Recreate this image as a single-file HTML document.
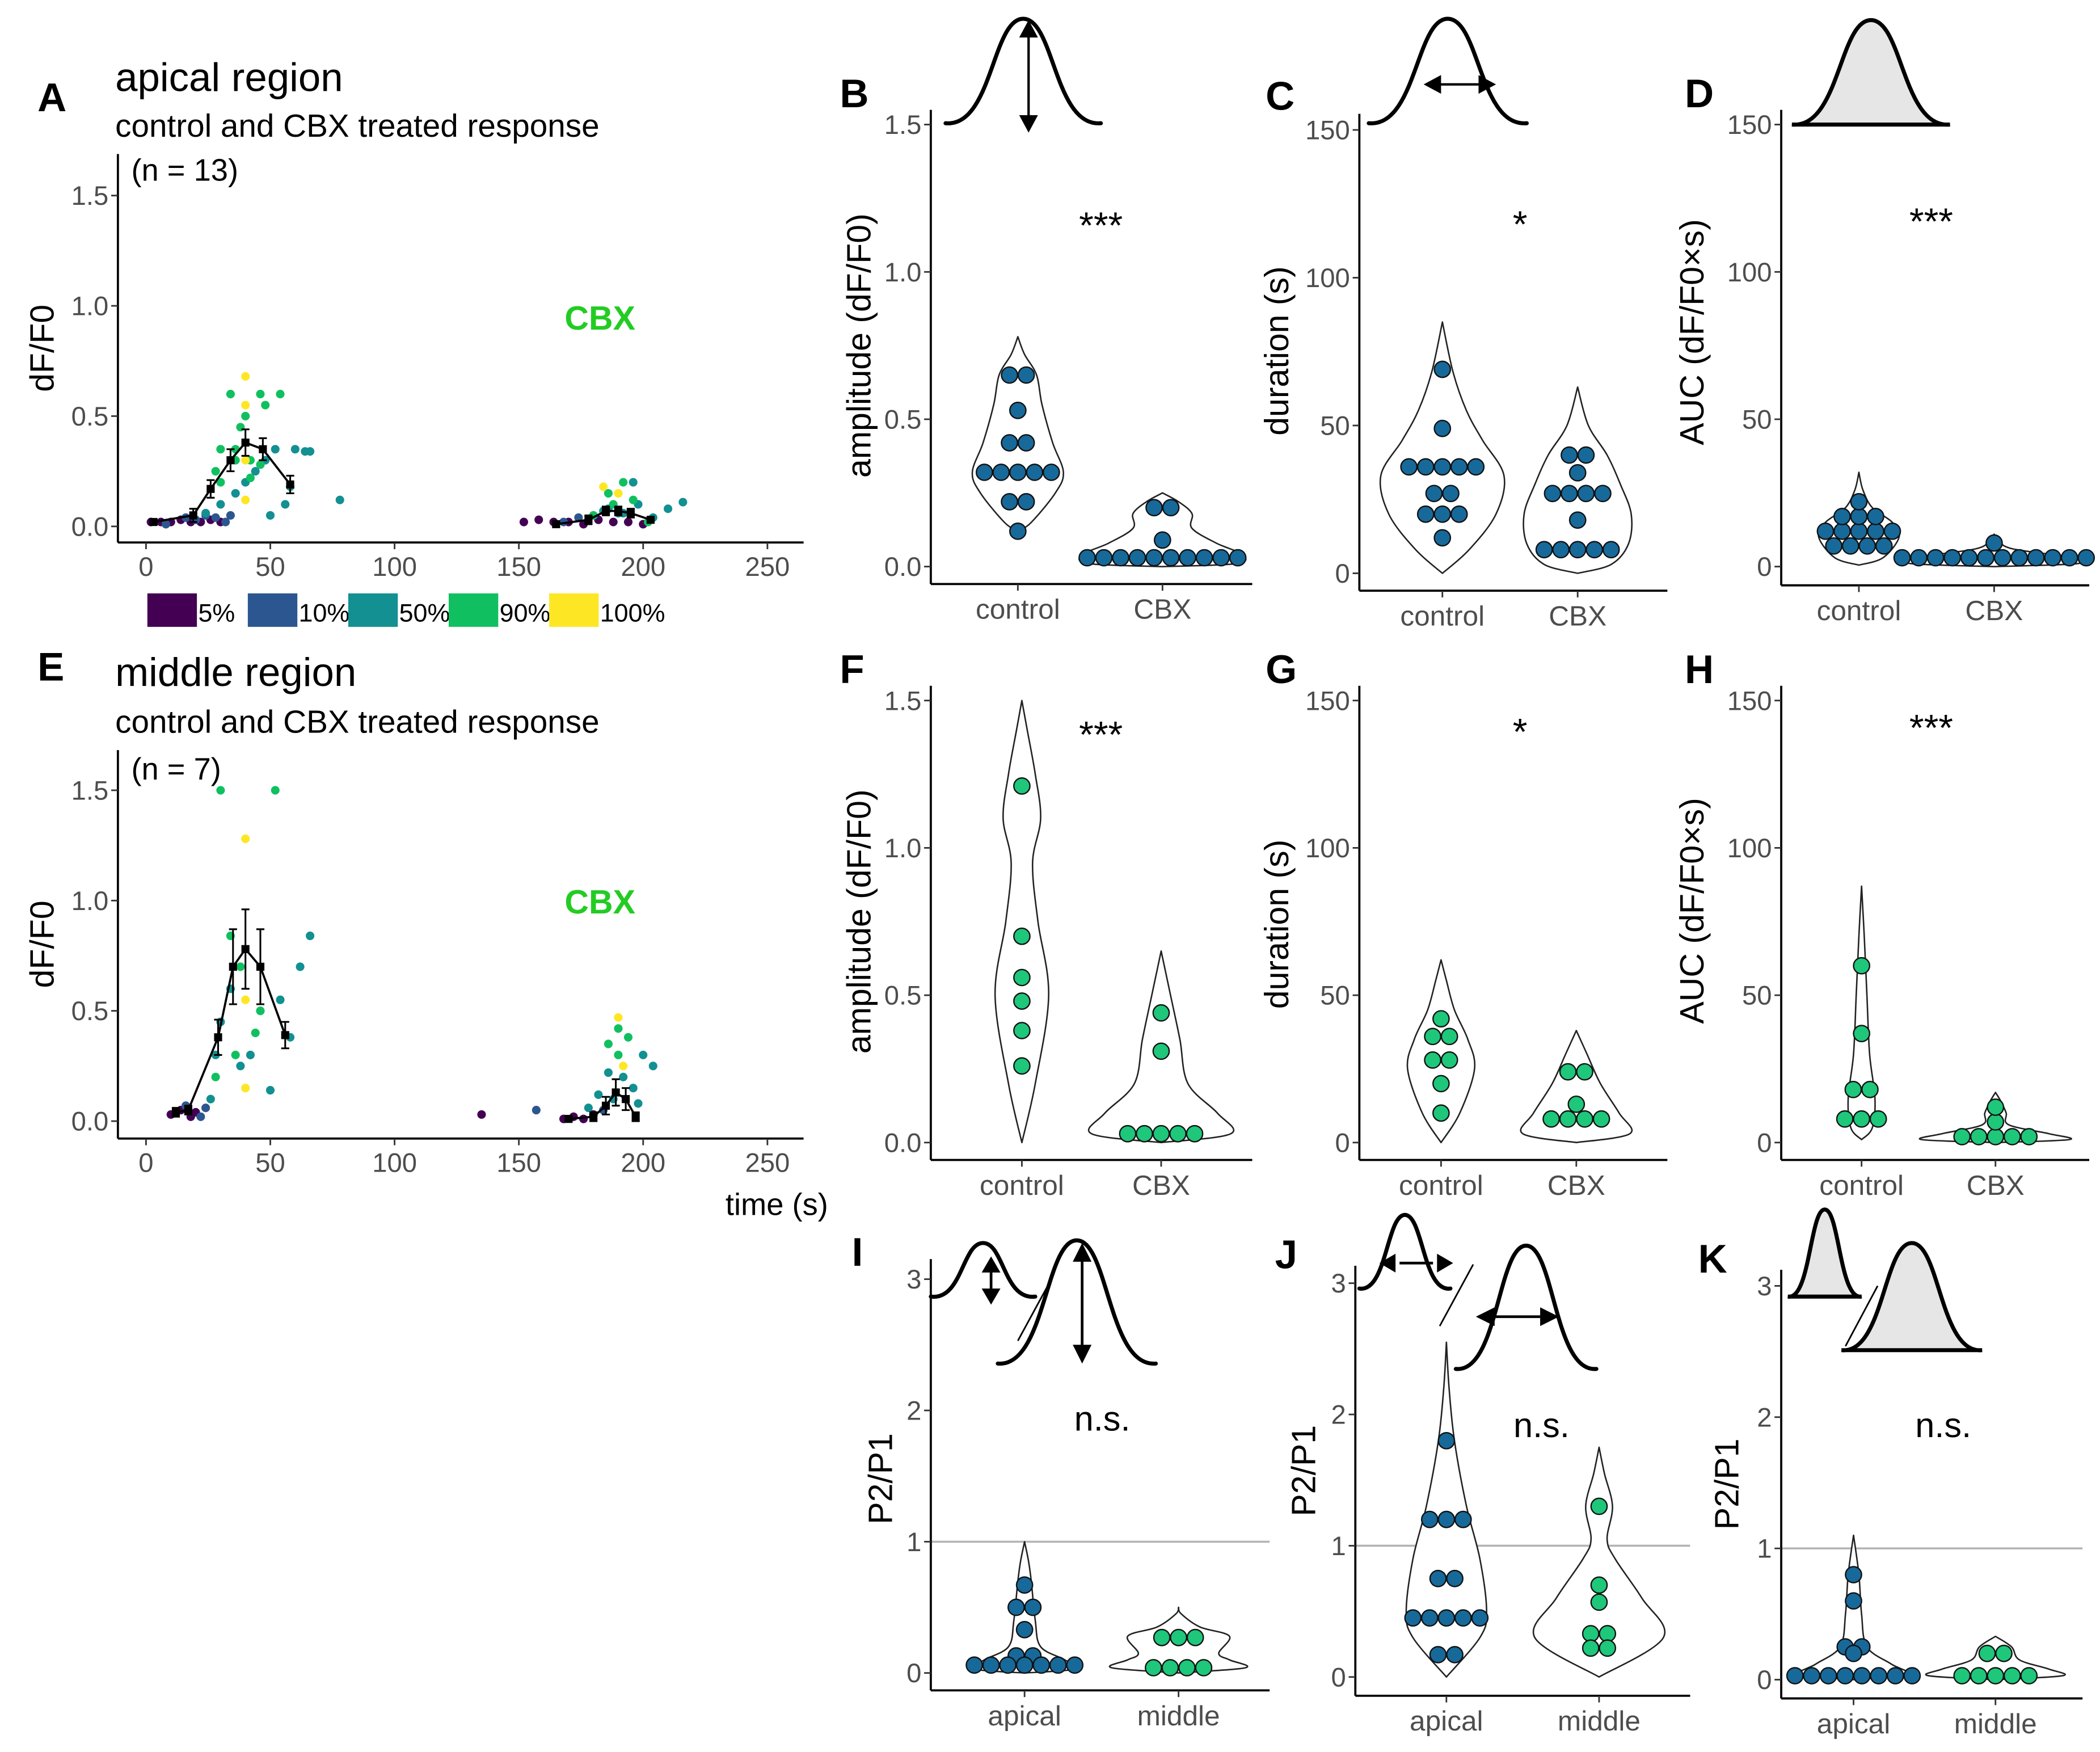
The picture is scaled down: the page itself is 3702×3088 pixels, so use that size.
<!DOCTYPE html>
<html><head><meta charset="utf-8"><style>
html,body{margin:0;padding:0;background:#fff}
svg{display:block}
text{font-family:"Liberation Sans",sans-serif}
</style></head><body>
<svg id="fig" xmlns="http://www.w3.org/2000/svg" width="3702" height="3088" viewBox="0 0 1568 1308">
<rect width="1568" height="1308" fill="#fff"/>
<g id="root"></g>
</svg>
<script>
// ---------- DATA ----------
const pctLabels=["5%","10%","50%","90%","100%"];
const pctColors=["#440154","#2c568f","#129092","#10c060","#fde725"];
// panel A scatter: [time, value, class]
const aTimes=[2,6,10,14,18,22,26,30,8,16,24,20,28,32,34,24,30,36,40,44,48,52,56,60,64,28,36,42,50,58,66,78,46,38,30,34,40,46,30,36,42,48,54,40,40,40,40,152,158,164,170,176,182,188,194,200,168,174,180,186,192,198,204,210,216,184,190,196,202,186,192,184,190,196,180,188];
const aVals=[0.02,0.02,0.02,0.03,0.02,0.02,0.03,0.02,0.01,0.04,0.05,0.03,0.04,0.02,0.05,0.06,0.1,0.15,0.2,0.25,0.3,0.35,0.1,0.35,0.34,0.25,0.3,0.22,0.05,0.18,0.34,0.12,0.28,0.45,0.2,0.6,0.5,0.6,0.35,0.35,0.3,0.55,0.6,0.68,0.55,0.3,0.12,0.02,0.03,0.02,0.02,0.01,0.03,0.02,0.02,0.01,0.02,0.04,0.05,0.08,0.06,0.1,0.04,0.08,0.11,0.07,0.06,0.12,0.02,0.15,0.2,0.18,0.15,0.2,0.05,0.1];
const aCls=[0,0,0,0,0,0,0,0,1,1,1,1,1,1,1,2,2,2,2,2,2,2,2,2,2,3,3,3,2,2,2,2,3,3,3,3,3,3,3,3,3,3,3,4,4,4,4,0,0,0,0,0,0,0,0,0,1,1,2,2,2,2,2,2,2,2,2,3,3,3,3,4,4,2,3,3];
const aMeanT=[3,19,26,34,40,47,58,165,178,185,190,195,203];
const aMeanV=[0.02,0.05,0.17,0.3,0.38,0.35,0.19,0.01,0.03,0.07,0.07,0.06,0.03];
const aMeanE=[0.01,0.03,0.04,0.05,0.06,0.05,0.04,0.01,0.02,0.02,0.02,0.02,0.01];
// panel E scatter
const eTimes=[10,14,18,20,24,16,22,26,28,30,34,38,42,46,50,54,58,62,66,30,34,38,46,52,28,36,44,40,40,40,135,157,168,172,176,180,184,188,192,196,200,204,178,182,186,190,194,198,186,190,192,190];
const eVals=[0.03,0.05,0.02,0.04,0.06,0.07,0.02,0.1,0.3,0.45,0.6,0.25,0.3,0.5,0.14,0.55,0.38,0.7,0.84,1.5,0.84,0.7,0.5,1.5,0.2,0.3,0.4,1.28,0.55,0.15,0.03,0.05,0.01,0.02,0.01,0.03,0.05,0.1,0.2,0.15,0.3,0.25,0.06,0.12,0.22,0.3,0.38,0.08,0.35,0.42,0.25,0.47];
const eCls=[0,0,0,0,1,1,1,2,2,2,2,2,2,2,2,2,2,2,2,3,3,3,3,3,3,3,3,4,4,4,0,1,0,0,0,0,1,2,2,2,2,2,2,2,2,3,3,2,3,3,4,4];
const eMeanT=[12,17,29,35,40,46,56,170,180,185,189,193,197];
const eMeanV=[0.04,0.05,0.38,0.7,0.78,0.7,0.39,0.01,0.02,0.07,0.13,0.1,0.02];
const eMeanE=[0.02,0.02,0.08,0.17,0.18,0.17,0.06,0.01,0.02,0.04,0.06,0.05,0.02];
// violin panels: dot values
const bCtrl=[0.65,0.65,0.53,0.42,0.42,0.32,0.32,0.32,0.32,0.32,0.22,0.22,0.12];
const bCbx=[0.2,0.2,0.09,0.03,0.03,0.03,0.03,0.03,0.03,0.03,0.03,0.03,0.03];
const cCtrl=[69,49,36,36,36,36,36,27,27,20,20,20,12];
const cCbx=[40,40,34,27,27,27,27,18,8,8,8,8,8];
const dCtrl=[22,17,17,17,12,12,12,12,12,7,7,7,7];
const dCbx=[8,3,3,3,3,3,3,3,3,3,3,3,3];
const fCtrl=[1.21,0.7,0.56,0.48,0.38,0.26];
const fCbx=[0.44,0.31,0.03,0.03,0.03,0.03,0.03];
const gCtrl=[42,36,36,28,28,20,10];
const gCbx=[24,24,13,8,8,8,8];
const hCtrl=[60,37,18,18,8,8,8];
const hCbx=[12,7,2,2,2,2,2];
const iApi=[0.67,0.5,0.5,0.33,0.13,0.13,0.06,0.06,0.06,0.06,0.06,0.06,0.06];
const iMid=[0.27,0.27,0.27,0.04,0.04,0.04,0.04];
const jApi=[1.8,1.2,1.2,1.2,0.75,0.75,0.45,0.45,0.45,0.45,0.45,0.17,0.17];
const jMid=[1.3,0.7,0.57,0.33,0.33,0.22,0.22];
const kApi=[0.8,0.6,0.25,0.25,0.2,0.03,0.03,0.03,0.03,0.03,0.03,0.03,0.03];
const kMid=[0.2,0.2,0.03,0.03,0.03,0.03,0.03];
// violin outlines: [value, half-width]
const vB1=[[0.12,0],[0.15,10],[0.25,28],[0.32,34],[0.42,26],[0.55,18],[0.65,14],[0.72,5],[0.78,0]];
const vB2=[[0,0],[0.01,55],[0.04,60],[0.08,40],[0.13,22],[0.18,22],[0.22,12],[0.25,0]];
const vC1=[[0,0],[8,20],[20,40],[33,46],[45,30],[55,18],[68,8],[85,0]];
const vC2=[[0,0],[3,25],[10,38],[20,40],[30,32],[40,22],[50,8],[63,0]];
const vD1=[[0.5,0],[3,18],[10,30],[15,25],[20,10],[26,3],[32,0]];
const vD2=[[0,0],[1,62],[3,60],[6,14],[9,3],[11,0]];
const vF1=[[0,0],[0.2,10],[0.5,20],[0.75,12],[0.95,8],[1.1,14],[1.25,10],[1.4,4],[1.5,0]];
const vF2=[[0,0],[0.03,52],[0.1,42],[0.2,20],[0.35,14],[0.5,7],[0.65,0]];
const vG1=[[0,0],[10,14],[25,25],[35,20],[45,10],[55,4],[62,0]];
const vG2=[[0,0],[3,40],[10,32],[20,18],[30,8],[38,0]];
const vH1=[[1,0],[5,8],[15,10],[30,6],[50,4],[70,2],[87,0]];
const vH2=[[0,0],[1,55],[3,40],[6,10],[10,8],[14,4],[17,0]];
const vI1=[[0,0],[0.03,38],[0.1,30],[0.2,12],[0.4,8],[0.7,5],[0.85,3],[1,0]];
const vI2=[[0,0],[0.04,50],[0.1,38],[0.15,30],[0.28,38],[0.35,16],[0.45,2],[0.5,0]];
const vJ1=[[0,0],[0.3,25],[0.5,30],[0.9,25],[1.3,15],[1.8,6],[2.2,2],[2.55,0]];
const vJ2=[[0,0],[0.3,48],[0.6,32],[0.9,12],[1.05,6],[1.3,10],[1.55,4],[1.75,0]];
const vK1=[[0,0],[0.04,40],[0.12,28],[0.25,10],[0.5,6],[0.8,4],[1.1,0]];
const vK2=[[0,0],[0.03,50],[0.08,40],[0.15,18],[0.25,12],[0.33,0]];

// ---------- HELPERS ----------
const NS="http://www.w3.org/2000/svg";
const root=document.getElementById('root');
function el(tag,attrs,parent,txt){const e=document.createElementNS(NS,tag);for(const k in attrs)e.setAttribute(k,attrs[k]);if(txt!==undefined)e.textContent=txt;(parent||root).appendChild(e);return e;}
function lin(v0,p0,v1,p1){return v=>p0+(v-v0)*(p1-p0)/(v1-v0);}
function txt(x,y,s,size,opts,name,parent){const t=el('text',Object.assign({x:x,y:y,'font-size':size},opts||{}),parent,s);


return t;}

function axes(g,ax,ay,top,right,ticks,yS,tickLbls){
  el('line',{x1:ax,y1:top,x2:ax,y2:ay,stroke:'#000','stroke-width':1.6},g);
  el('line',{x1:ax,y1:ay,x2:right,y2:ay,stroke:'#000','stroke-width':1.6},g);
  ticks.forEach((v,i)=>{const y=yS(v);
    el('line',{x1:ax-5,y1:y,x2:ax,y2:y,stroke:'#333','stroke-width':1.2},g);
    txt(ax-7,y+7,tickLbls[i],20,{'text-anchor':'end',fill:'#4d4d4d'},'y-tick-label',g);
  });
}
function smoothOpen(pts){
  let d='M'+pts[0][0]+','+pts[0][1];
  for(let i=0;i<pts.length-1;i++){
    const p0=pts[Math.max(0,i-1)],p1=pts[i],p2=pts[i+1],p3=pts[Math.min(pts.length-1,i+2)];
    const c1=[p1[0]+(p2[0]-p0[0])/6,p1[1]+(p2[1]-p0[1])/6];
    const c2=[p2[0]-(p3[0]-p1[0])/6,p2[1]-(p3[1]-p1[1])/6];
    d+=' C'+c1[0]+','+c1[1]+' '+c2[0]+','+c2[1]+' '+p2[0]+','+p2[1];
  }
  return d;
}
function violin(g,cx,yS,shape,name){
  const right=shape.map(p=>[cx+p[1],yS(p[0])]);
  const left=shape.slice().reverse().map(p=>[cx-p[1],yS(p[0])]);
  let d=smoothOpen(right)+' '+smoothOpen(left).replace(/^M[^ ]+/,'')+'Z';
  const p=el('path',{d:d,fill:'#fff',stroke:'#222','stroke-width':1.1,'stroke-linejoin':'round'},g);
  
  
}
function dots(g,cx,yS,vals,col,name){
  const groups={};vals.forEach(v=>{groups[v]=(groups[v]||0)+1;});
  Object.keys(groups).forEach(k=>{const n=groups[k];const v=parseFloat(k);
    for(let i=0;i<n;i++){const x=cx+(i-(n-1)/2)*12.5;
      const c=el('circle',{cx:x,cy:yS(v),r:6,fill:col,stroke:'#111','stroke-width':1},g);
      
      
    }});
}
const BLUE='#17699a',GREEN='#1ec77a';
function vpanel(o){
  const g=el('g',{});
  
  
  const yS=lin(o.v0,o.y0,o.v1,o.y1);
  if(o.hline!==undefined) el('line',{x1:o.ax,y1:yS(o.hline),x2:o.right,y2:yS(o.hline),stroke:'#b3b3b3','stroke-width':1.5},g);
  axes(g,o.ax,o.ay,o.top,o.right,o.ticks,yS,o.tickL);
  violin(g,o.c1,yS,o.s1,'violin-'+o.cat1);
  violin(g,o.c2,yS,o.s2,'violin-'+o.cat2);
  dots(g,o.c1,yS,o.d1,o.col1,'dot-'+o.cat1);
  dots(g,o.c2,yS,o.d2,o.col2,'dot-'+o.cat2);
  [[o.c1,o.cat1],[o.c2,o.cat2]].forEach(c=>{
    el('line',{x1:c[0],y1:o.ay,x2:c[0],y2:o.ay+5,stroke:'#333','stroke-width':1.2},g);
    txt(c[0],o.ay+26,c[1],21,{'text-anchor':'middle',fill:'#4d4d4d'},'x-tick-label',g);
  });
  txt(0,0,o.ytitle,25,{'text-anchor':'middle',fill:'#000',transform:'translate('+o.ytx+','+o.yty+') rotate(-90)'},'y-axis-title',g);
  txt(o.sx,o.sy,o.sig,o.sig==='n.s.'?26:28,{'text-anchor':'middle',fill:'#000'},'significance-label',g);
  txt(o.lx,o.ly,o.letter,30,{'font-weight':'bold'},'panel-label',g);
}

// ---------- SCATTER PANELS ----------
function spanel(o){
  const g=el('g',{});
  
  
  const xS=lin(0,109,250,573), yS=lin(0,o.y0,1.5,o.y15);
  axes(g,88,o.ay,o.top,600,[0,0.5,1,1.5],yS,['0.0','0.5','1.0','1.5']);
  [0,50,100,150,200,250].forEach(t=>{
    el('line',{x1:xS(t),y1:o.ay,x2:xS(t),y2:o.ay+5,stroke:'#333','stroke-width':1.2},g);
    txt(xS(t),o.ay+25,String(t),20,{'text-anchor':'middle',fill:'#4d4d4d'},'x-tick-label',g);
  });
  o.times.forEach((t,i)=>{
    const c=el('circle',{cx:xS(t),cy:yS(o.vals[i]),r:3.2,fill:pctColors[o.cls[i]]},g);
    
    
  });
  const n=o.mt.length;
  [[0,7],[7,n]].forEach(r=>{
    let d='';for(let i=r[0];i<r[1];i++){d+=(i===r[0]?'M':'L')+xS(o.mt[i])+','+yS(o.mv[i])+' ';}
    const p=el('path',{d:d,fill:'none',stroke:'#000','stroke-width':1.6},g);
    
    
  });
  for(let i=0;i<n;i++){
    const x=xS(o.mt[i]),y1=yS(o.mv[i]-o.me[i]),y2=yS(o.mv[i]+o.me[i]);
    el('path',{d:'M'+x+','+y1+'V'+y2+'M'+(x-3)+','+y1+'h6M'+(x-3)+','+y2+'h6',stroke:'#000','stroke-width':1.3,fill:'none'},g);
    const c=el('rect',{x:x-3,y:yS(o.mv[i])-3,width:6,height:6,fill:'#000'},g);
    
    
  }
  txt(448,o.cbxY,'CBX',25,{'text-anchor':'middle',fill:'#22cc22','font-weight':'bold'},'cbx-label',g);
  txt(0,0,'dF/F0',25,{fill:'#000','text-anchor':'middle',transform:'translate(40,'+o.ytY+') rotate(-90)'},'y-axis-title',g);
  txt(28,o.letY,o.letter,30,{'font-weight':'bold'},'panel-label',g);
  txt(86,o.titleY,o.title,30,{},'panel-title',g);
  txt(86,o.subY,'control and CBX treated response',24,{},'panel-subtitle',g);
  txt(98,o.nY,o.n,23,{},'n-label',g);
}
spanel({name:'panel-a',times:aTimes,vals:aVals,cls:aCls,mt:aMeanT,mv:aMeanV,me:aMeanE,y0:393,y15:146,ay:405,top:115,cbxY:246,ytY:260,letY:83,titleY:68,subY:102,nY:135,letter:'A',title:'apical region',n:'(n = 13)'});
spanel({name:'panel-e',times:eTimes,vals:eVals,cls:eCls,mt:eMeanT,mv:eMeanV,me:eMeanE,y0:837,y15:590,ay:850,top:560,cbxY:682,ytY:705,letY:508,titleY:512,subY:547,nY:582,letter:'E',title:'middle region',n:'(n = 7)'});
txt(580,907,'time (s)',23,{'text-anchor':'middle'},'x-axis-title');
// legend
const lg=el('g',{});


const legX=[110,185,260,335,410];
pctLabels.forEach((l,i)=>{
  const r=el('rect',{x:legX[i],y:443,width:37,height:25,fill:pctColors[i]},lg);
  
  
  txt(legX[i]+38,464,l,19,{},'legend-label',lg);
});

// ---------- VIOLIN PANELS ----------
vpanel({name:'panel-b',letter:'B',lx:627,ly:80,ax:695,ay:436,top:82,right:935,v0:0,y0:423,v1:1.5,y1:93,ticks:[0,0.5,1,1.5],tickL:['0.0','0.5','1.0','1.5'],c1:760,c2:868,cat1:'control',cat2:'CBX',s1:vB1,s2:vB2,d1:bCtrl,d2:bCbx,col1:BLUE,col2:BLUE,ytitle:'amplitude (dF/F0)',ytx:650,yty:258,sig:'***',sx:822,sy:178});
vpanel({name:'panel-c',letter:'C',lx:945,ly:82,ax:1015,ay:441,top:85,right:1245,v0:0,y0:428,v1:150,y1:97,ticks:[0,50,100,150],tickL:['0','50','100','150'],c1:1077,c2:1178,cat1:'control',cat2:'CBX',s1:vC1,s2:vC2,d1:cCtrl,d2:cCbx,col1:BLUE,col2:BLUE,ytitle:'duration (s)',ytx:962,yty:262,sig:'*',sx:1135,sy:177});
vpanel({name:'panel-d',letter:'D',lx:1258,ly:80,ax:1330,ay:437,top:82,right:1560,v0:0,y0:423,v1:150,y1:93,ticks:[0,50,100,150],tickL:['0','50','100','150'],c1:1388,c2:1489,cat1:'control',cat2:'CBX',s1:vD1,s2:vD2,d1:dCtrl,d2:dCbx,col1:BLUE,col2:BLUE,ytitle:'AUC  (dF/F0×s)',ytx:1272,yty:248,sig:'***',sx:1442,sy:175});
vpanel({name:'panel-f',letter:'F',lx:627,ly:510,ax:695,ay:866,top:512,right:935,v0:0,y0:853,v1:1.5,y1:523,ticks:[0,0.5,1,1.5],tickL:['0.0','0.5','1.0','1.5'],c1:763,c2:867,cat1:'control',cat2:'CBX',s1:vF1,s2:vF2,d1:fCtrl,d2:fCbx,col1:GREEN,col2:GREEN,ytitle:'amplitude (dF/F0)',ytx:650,yty:688,sig:'***',sx:822,sy:558});
vpanel({name:'panel-g',letter:'G',lx:945,ly:510,ax:1015,ay:866,top:512,right:1245,v0:0,y0:853,v1:150,y1:523,ticks:[0,50,100,150],tickL:['0','50','100','150'],c1:1076,c2:1177,cat1:'control',cat2:'CBX',s1:vG1,s2:vG2,d1:gCtrl,d2:gCbx,col1:GREEN,col2:GREEN,ytitle:'duration (s)',ytx:962,yty:690,sig:'*',sx:1135,sy:556});
vpanel({name:'panel-h',letter:'H',lx:1258,ly:510,ax:1330,ay:866,top:512,right:1560,v0:0,y0:853,v1:150,y1:523,ticks:[0,50,100,150],tickL:['0','50','100','150'],c1:1390,c2:1490,cat1:'control',cat2:'CBX',s1:vH1,s2:vH2,d1:hCtrl,d2:hCbx,col1:GREEN,col2:GREEN,ytitle:'AUC  (dF/F0×s)',ytx:1272,yty:680,sig:'***',sx:1442,sy:553});
vpanel({name:'panel-i',letter:'I',lx:636,ly:945,ax:695,ay:1262,top:940,right:948,v0:0,y0:1249,v1:3,y1:955,ticks:[0,1,2,3],tickL:['0','1','2','3'],hline:1,c1:765,c2:880,cat1:'apical',cat2:'middle',s1:vI1,s2:vI2,d1:iApi,d2:iMid,col1:BLUE,col2:GREEN,ytitle:'P2/P1',ytx:666,yty:1104,sig:'n.s.',sx:823,sy:1068});
vpanel({name:'panel-j',letter:'J',lx:952,ly:947,ax:1012,ay:1266,top:945,right:1262,v0:0,y0:1252,v1:3,y1:958,ticks:[0,1,2,3],tickL:['0','1','2','3'],hline:1,c1:1080,c2:1194,cat1:'apical',cat2:'middle',s1:vJ1,s2:vJ2,d1:jApi,d2:jMid,col1:BLUE,col2:GREEN,ytitle:'P2/P1',ytx:982,yty:1098,sig:'n.s.',sx:1151,sy:1073});
vpanel({name:'panel-k',letter:'K',lx:1268,ly:950,ax:1330,ay:1268,top:948,right:1555,v0:0,y0:1254,v1:3,y1:960,ticks:[0,1,2,3],tickL:['0','1','2','3'],hline:1,c1:1384,c2:1490,cat1:'apical',cat2:'middle',s1:vK1,s2:vK2,d1:kApi,d2:kMid,col1:BLUE,col2:GREEN,ytitle:'P2/P1',ytx:1298,yty:1108,sig:'n.s.',sx:1451,sy:1073});

// ---------- ICONS ----------
function p(d,fill,name){const e=el('path',{d:d,fill:fill||'none',stroke:'#000','stroke-width':3,'stroke-linecap':'round'});

}
function l(x1,y1,x2,y2,w){el('line',{x1:x1,y1:y1,x2:x2,y2:y2,stroke:'#000','stroke-width':w||1.5});}
function tri(pts){el('path',{d:'M'+pts+'Z',fill:'#000'});}
function small(x,base,w,h){return 'M'+x+','+base+' C'+(x+w*0.3)+','+(base+3)+' '+(x+w*0.3)+','+(base-h)+' '+(x+w*0.5)+','+(base-h)+' C'+(x+w*0.7)+','+(base-h)+' '+(x+w*0.7)+','+(base+3)+' '+(x+w)+','+base;}
// top row
p(small(706,92,116,78),'none','amplitude-icon');
l(768,26,768,88,1.8);tri('761,28 768,15 775,28');tri('761,86 768,99 775,86');
p(small(1022,92,118,78),'none','duration-icon');
l(1072,63,1108,63,1.8);tri('1076,56 1063,63 1076,70');tri('1104,56 1117,63 1104,70');
p(small(1338,93,118,78)+' Z','#e6e6e6','auc-icon');
// I
p(small(695,968,78,40),'none','small-amplitude-icon');
l(740,945,740,968,2);tri('733,950 740,938 747,950');tri('733,962 740,974 747,962');
l(760,1001,785,955,1.2);
p(small(745,1018,118,92),'none','large-amplitude-icon');
l(808,935,808,1010,2);tri('801,942 808,928 815,942');tri('801,1004 808,1018 815,1004');
// J
p(small(1015,962,68,55),'none','small-duration-icon');
l(1045,943,1070,943,2);tri('1042,936 1030,943 1042,950');tri('1073,936 1085,943 1073,950');
l(1075,990,1100,944,1.2);
p(small(1087,1022,105,92),'none','large-duration-icon');
l(1115,983,1150,983,2);tri('1116,976 1102,983 1116,990');tri('1150,976 1164,983 1150,990');
// K
p(small(1335,968,55,65)+' Z','#e6e6e6','small-auc-icon');
l(1378,1005,1402,960,1.2);
p(small(1375,1008,105,80)+' Z','#e6e6e6','large-auc-icon');
</script>
</body></html>
